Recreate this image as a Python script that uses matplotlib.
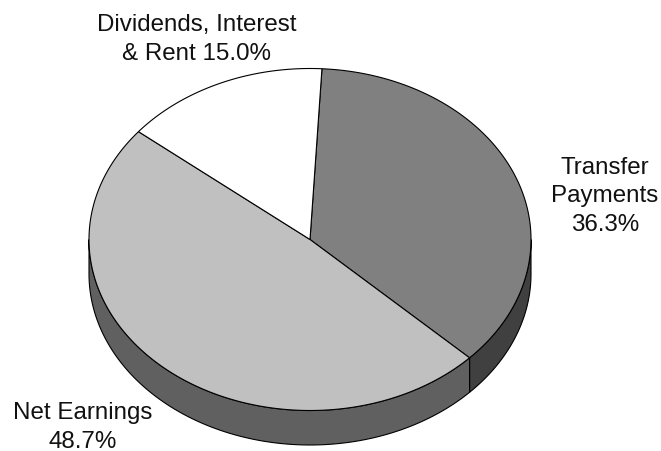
import numpy as np
import matplotlib
matplotlib.use("Agg")
import matplotlib.pyplot as plt

plt.rcParams["font.family"] = ["Liberation Sans", "DejaVu Sans"]

# order is clockwise from the top of the pie
labels = ["Transfer\nPayments\n36.3%", "Net Earnings\n48.7%", "Dividends, Interest\n& Rent 15.0%"]
values = [36.3, 48.7, 15.0]
colors = ["#808080", "#C0C0C0", "#FFFFFF"]
side_colors = ["#404040", "#606060", "#FFFFFF"]
START = 3.1  # deg clockwise from 12 o'clock
W, H = 661, 451
CX, CY = 310, 239.5
RX, RY = 221, 171
DEPTH = 34.5
FS = 17.4
LS = 1.39


def to_px(deg):
    rad = np.radians(deg)
    return CX + RX * np.sin(rad), CY - RY * np.cos(rad)


fig = plt.figure(figsize=(W / 100, H / 100), dpi=100)
ax = fig.add_axes([0, 0, 1, 1])

# sides first, only the front half (90..270 deg clockwise from top) is visible
edges = START + np.cumsum([0] + values) * 3.6
for i in range(len(values)):
    a0, a1 = max(edges[i], 90), min(edges[i + 1], 270)
    if a1 <= a0:
        continue
    t = np.linspace(a0, a1, 100)
    x, y = to_px(t)
    ax.fill(np.r_[x, x[::-1]], np.r_[y, y[::-1] + DEPTH],
            facecolor=side_colors[i], edgecolor="black", lw=0.8)

# top face
for i in range(len(values)):
    t = np.linspace(edges[i], edges[i + 1], 200)
    x, y = to_px(t)
    ax.fill(np.r_[CX, x], np.r_[CY, y], facecolor=colors[i], edgecolor="black", lw=0.8)

ax.text(605, 231, labels[0], ha="center", va="baseline", fontsize=FS, linespacing=LS, color="#111111")
ax.text(83, 448, labels[1], ha="center", va="baseline", fontsize=FS, linespacing=LS, color="#111111")
ax.text(197, 60, labels[2], ha="center", va="baseline", fontsize=FS, linespacing=LS, color="#111111")

ax.set_xlim(0, W)
ax.set_ylim(H, 0)
ax.axis("off")
fig.savefig("out.png", dpi=100)
